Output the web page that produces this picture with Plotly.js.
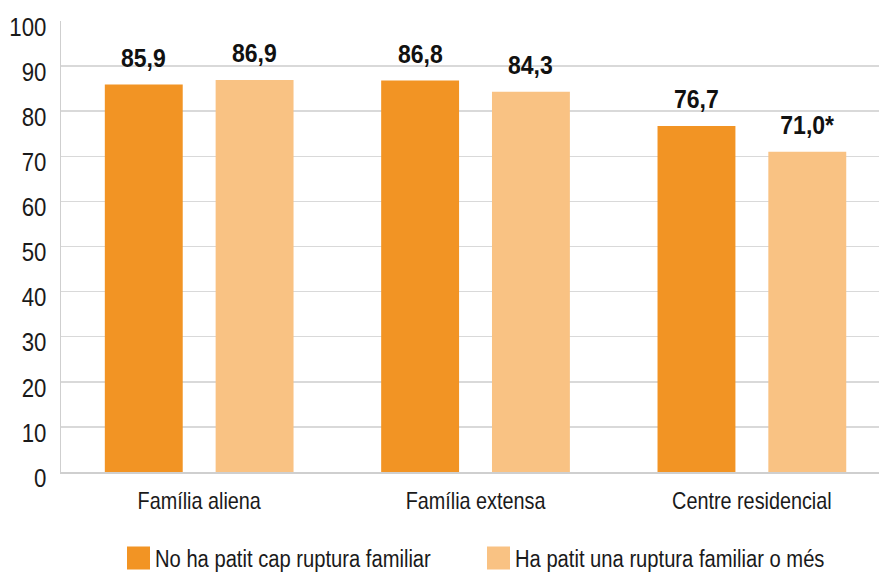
<!DOCTYPE html>
<html>
<head>
<meta charset="utf-8">
<script src="https://cdn.plot.ly/plotly-3.0.1.min.js"></script>
<style>html,body{margin:0;padding:0;background:#fff;}#chart{width:879px;height:572px;}</style>
</head>
<body>
<div id="chart"></div>
<script>
var categories = ["Família aliena", "Família extensa", "Centre residencial"];
var seriesNames = ["No ha patit cap ruptura familiar", "Ha patit una ruptura familiar o més"];
var noRuptura = [85.9, 86.8, 76.7];
var ambRuptura = [86.9, 84.3, 71.0];
var labelsNo = ["85,9", "86,8", "76,7"];
var labelsAmb = ["86,9", "84,3", "71,0*"];
var yTicks = [0, 10, 20, 30, 40, 50, 60, 70, 80, 90, 100];

var FONT = '"Liberation Sans", Arial, sans-serif';
var colors = ["#F29424", "#F9C283"];
var bargap = 0.198, bargroupgap = 0.297;
var off = (1 - bargap) / 4;

var xIdx = categories.map(function(c, i){ return i; });

var traces = [
  {type: 'bar', name: seriesNames[0], x: xIdx, y: noRuptura, marker: {color: colors[0]}, hoverinfo: 'none'},
  {type: 'bar', name: seriesNames[1], x: xIdx, y: ambRuptura, marker: {color: colors[1]}, hoverinfo: 'none'}
];

var annotations = [];
[[noRuptura, labelsNo, -off], [ambRuptura, labelsAmb, off]].forEach(function(s){
  s[0].forEach(function(v, i){
    annotations.push({x: i + s[2], y: v, xref: 'x', yref: 'y', text: s[1][i], showarrow: false,
      yanchor: 'bottom', xanchor: 'center', yshift: 11,
      font: {family: FONT, size: 25, color: '#111111', weight: 'bold'}});
  });
});

var layout = {
  width: 879, height: 572,
  margin: {l: 61, r: 0, t: 21, b: 100, pad: 0},
  paper_bgcolor: '#ffffff', plot_bgcolor: '#ffffff',
  barmode: 'group', bargap: bargap, bargroupgap: bargroupgap,
  font: {family: FONT, size: 24, color: '#1a1a1a'},
  xaxis: {
    range: [-0.5, 2.46], tickmode: 'array', tickvals: xIdx, ticktext: categories,
    showgrid: false, zeroline: false, showline: true, linecolor: '#cfcfcf', linewidth: 2,
    ticks: '', ticklabelstandoff: 6, tickfont: {family: FONT, size: 24, color: '#1a1a1a'}, fixedrange: true
  },
  yaxis: {
    range: [0, 100], tickmode: 'array', tickvals: yTicks,
    showgrid: true, gridcolor: '#d9d9d9', gridwidth: 1.5, zeroline: false,
    showline: true, linecolor: '#cfcfcf', linewidth: 1.5,
    ticks: '', ticklabelstandoff: 8, ticklabelshift: 6,
    tickfont: {family: FONT, size: 25, color: '#1a1a1a'}, fixedrange: true
  },
  showlegend: true,
  legend: {orientation: 'h', xref: 'container', yref: 'container', x: 115 / 879, xanchor: 'left', y: 14 / 572, yanchor: 'middle',
    entrywidth: 315, entrywidthmode: 'pixels',
    font: {family: FONT, size: 23, color: '#1a1a1a'}, traceorder: 'normal', itemclick: false},
  annotations: annotations
};

function condense(gd) {
  var rules = [
    ['.xtick text', 0.825],
    ['.ytick text', 0.89],
    ['.legendtext', 0.877],
    ['.annotation-text', 0.92]
  ];
  rules.forEach(function(r){
    gd.querySelectorAll(r[0]).forEach(function(t){
      var len = t.getComputedTextLength();
      t.setAttribute('textLength', (len * r[1]).toFixed(2));
      t.setAttribute('lengthAdjust', 'spacingAndGlyphs');
    });
  });
  gd.querySelectorAll('.legend .legendpoints path').forEach(function(p){
    p.setAttribute('d', 'M15,11.5H-8V-11.5H15Z');
  });
}

Plotly.newPlot('chart', traces, layout, {displayModeBar: false, staticPlot: true}).then(condense);
</script>
</body>
</html>
